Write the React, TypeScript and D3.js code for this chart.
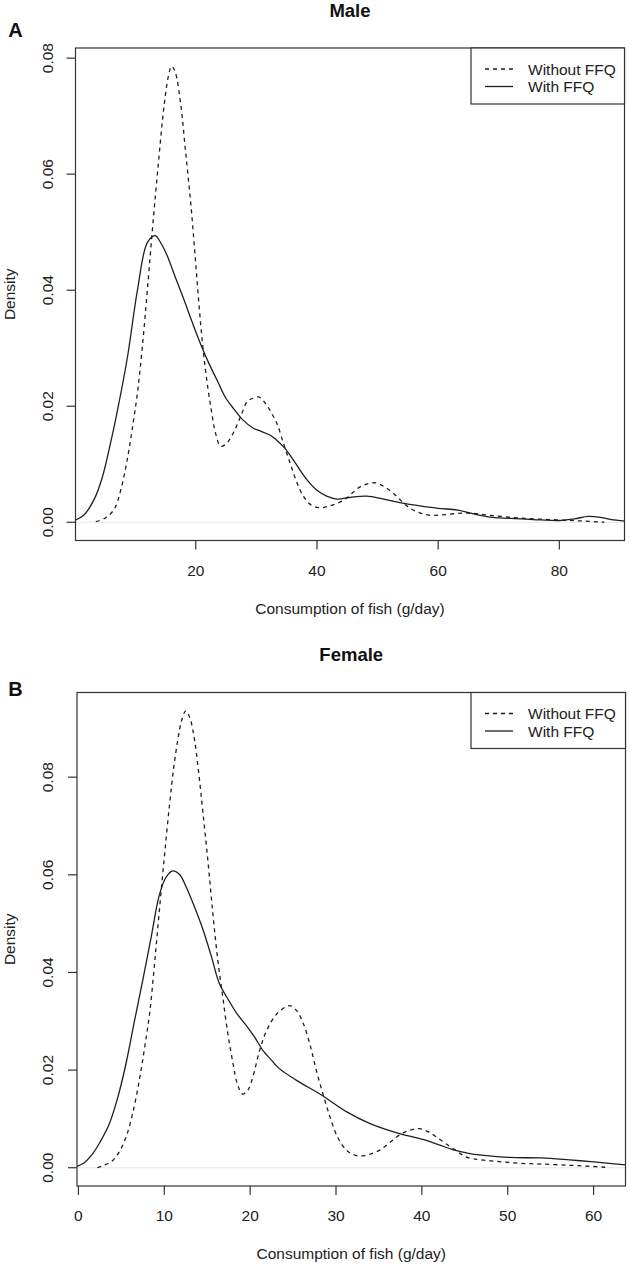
import React from "react";
import * as d3 from "d3";

// ---------- Data ----------
// Panel A: Male
const maleWithoutX = [3.5, 5.0, 6.5, 7.6, 8.7, 9.5, 10.4, 11.2, 12.0, 12.8, 13.7, 14.8, 15.5, 16.0, 16.6, 17.5, 18.3, 19.2, 20.0, 20.8, 21.6, 22.5, 23.3, 24.1, 25.0, 26.3, 27.5, 28.5, 29.5, 30.4, 31.5, 32.5, 33.4, 34.5, 35.6, 36.7, 37.8, 39.0, 40.5, 42.0, 44.4, 46.0, 47.1, 48.3, 49.6, 51.0, 52.6, 54.0, 55.4, 57.0, 58.7, 61.0, 64.6, 68.5, 73.8, 80.0, 84.0, 87.4];
const maleWithoutY = [0.0001, 0.0007, 0.0022, 0.0055, 0.0109, 0.016, 0.0226, 0.0305, 0.04, 0.05, 0.0605, 0.0721, 0.077, 0.0786, 0.0776, 0.0721, 0.064, 0.0546, 0.0444, 0.0342, 0.0262, 0.0197, 0.0152, 0.0131, 0.0135, 0.0156, 0.0185, 0.0208, 0.0214, 0.0216, 0.0205, 0.0188, 0.017, 0.0135, 0.0101, 0.0068, 0.0044, 0.003, 0.0025, 0.0028, 0.0038, 0.0052, 0.0061, 0.0066, 0.0068, 0.0062, 0.005, 0.0036, 0.0024, 0.0016, 0.0012, 0.0013, 0.0016, 0.0012, 0.0007, 0.0004, 0.0002, 0.0];
const maleWithX = [0.0, 1.5, 3.2, 4.5, 5.96, 7.3, 8.71, 10.37, 12.0, 13.3, 14.3, 15.3, 16.7, 18.07, 19.4, 20.8, 22.2, 23.6, 24.9, 26.3, 27.8, 29.5, 30.7, 32.3, 33.4, 34.5, 35.8, 37.2, 38.6, 40.0, 41.6, 43.3, 45.5, 48.2, 51.0, 53.7, 56.5, 60.0, 63.2, 66.0, 68.5, 73.8, 77.0, 80.0, 82.5, 84.8, 87.0, 89.0, 91.0];
const maleWithY = [0.0003, 0.0012, 0.0039, 0.0075, 0.0138, 0.0205, 0.0284, 0.04, 0.0482, 0.0494, 0.048, 0.0459, 0.042, 0.0383, 0.0345, 0.0307, 0.0273, 0.0243, 0.0215, 0.0195, 0.0176, 0.0162, 0.0157, 0.015, 0.0141, 0.013, 0.0112, 0.009, 0.007, 0.0055, 0.0045, 0.004, 0.0043, 0.0045, 0.004, 0.0034, 0.0029, 0.0024, 0.0021, 0.0014, 0.0009, 0.0006, 0.0004, 0.0003, 0.0006, 0.001, 0.0008, 0.0004, 0.0002];

// Panel B: Female
const femaleWithoutX = [2.2, 3.0, 4.0, 4.8, 5.55, 6.3, 7.1, 7.7, 8.3, 8.85, 9.4, 10.0, 10.6, 11.1, 11.6, 12.0, 12.5, 13.0, 13.5, 14.0, 14.5, 15.1, 15.65, 16.2, 16.8, 17.4, 18.0, 18.5, 19.1, 19.7, 20.3, 21.1, 21.9, 23.1, 24.6, 25.4, 26.2, 27.0, 27.7, 28.5, 29.3, 30.2, 31.2, 32.0, 32.8, 34.0, 35.1, 36.3, 37.4, 38.6, 39.7, 40.7, 41.7, 42.9, 44.0, 45.0, 46.0, 47.5, 49.3, 51.5, 53.9, 57.2, 59.5, 61.35];
const femaleWithoutY = [0.0, 0.0005, 0.0015, 0.0034, 0.0063, 0.011, 0.018, 0.0245, 0.0317, 0.0415, 0.0522, 0.0635, 0.0742, 0.082, 0.0879, 0.0915, 0.0936, 0.092, 0.0879, 0.081, 0.0728, 0.0625, 0.0522, 0.043, 0.0351, 0.0275, 0.0214, 0.0172, 0.0151, 0.0158, 0.0185, 0.024, 0.028, 0.0315, 0.0332, 0.0322, 0.0295, 0.025, 0.02, 0.015, 0.0104, 0.0062, 0.0036, 0.0027, 0.0024, 0.0028, 0.0036, 0.0052, 0.0067, 0.0077, 0.008, 0.0074, 0.0063, 0.0048, 0.0035, 0.0023, 0.0018, 0.0015, 0.0012, 0.0009, 0.00075, 0.0005, 0.0003, 0.0001];
const femaleWithX = [-0.5, 0.5, 1.67, 2.6, 3.6, 4.6, 5.55, 6.5, 7.5, 8.5, 9.4, 10.2, 11.0, 11.8, 12.5, 13.5, 14.5, 15.5, 16.4, 17.6, 18.4, 19.6, 20.5, 21.5, 22.5, 23.4, 25.4, 28.3, 31.2, 33.9, 37.0, 40.1, 42.0, 43.6, 45.6, 46.9, 50.2, 53.9, 57.2, 60.0, 63.7, 64.5];
const femaleWithY = [0.0002, 0.0008, 0.0029, 0.0055, 0.009, 0.0145, 0.0214, 0.0298, 0.0385, 0.0475, 0.0557, 0.0595, 0.0608, 0.06, 0.0577, 0.0535, 0.0488, 0.0432, 0.0378, 0.034, 0.0317, 0.029, 0.0268, 0.024, 0.022, 0.0203, 0.0179, 0.0149, 0.0115, 0.0091, 0.0072, 0.0058, 0.0047, 0.0037, 0.0029, 0.0026, 0.0021, 0.002, 0.0016, 0.0012, 0.0006, 0.0005];

const maleXTicks = [20, 40, 60, 80];
const femaleXTicks = [0, 10, 20, 30, 40, 50, 60];
const densityTicks = [0, 0.02, 0.04, 0.06, 0.08];
const legendLabels = ["Without FFQ", "With FFQ"];

const FONT = '"Liberation Sans", Arial, Helvetica, sans-serif';
const INK = "#1e1e1e";

type PanelProps = {
  id: string;
  title: string;
  letter: string;
  letterY: number;
  top: number;
  bottom: number;
  left: number;
  right: number;
  withoutX: number[];
  withoutY: number[];
  withX: number[];
  withY: number[];
  xTicks: number[];
  yTicks: number[];
};

function Panel(p: PanelProps) {
  const [xmin, xmax] = d3.extent(p.withoutX) as [number, number];
  const xr = xmax - xmin;
  const ymax = d3.max(p.withoutY) as number;
  const x = d3.scaleLinear().domain([xmin - 0.04 * xr, xmax + 0.04 * xr]).range([p.left, p.right]);
  const y = d3.scaleLinear().domain([-0.04 * ymax, 1.04 * ymax]).range([p.bottom, p.top]);
  const line = d3
    .line<[number, number]>()
    .x((d) => x(d[0]))
    .y((d) => y(d[1]))
    .curve(d3.curveCatmullRom.alpha(0.5));
  const withoutPts = p.withoutX.map((v, i) => [v, p.withoutY[i]] as [number, number]);
  const withPts = p.withX.map((v, i) => [v, p.withY[i]] as [number, number]);
  const fmt = d3.format(".2f");
  const cx = (p.left + p.right) / 2;
  const cy = (p.top + p.bottom) / 2;
  const legL = 471;
  const legH = 56;
  const fs = 15.5;

  return (
    <g>
      <defs>
        <clipPath id={p.id}>
          <rect x={p.left} y={p.top} width={p.right - p.left} height={p.bottom - p.top} />
        </clipPath>
      </defs>
      {/* zero line */}
      <line x1={p.left} x2={p.right} y1={y(0)} y2={y(0)} stroke="#e2e2e2" strokeWidth={0.8} />
      <g clipPath={`url(#${p.id})`}>
        <path d={line(withoutPts) || ""} fill="none" stroke={INK} strokeWidth={1.3} strokeDasharray="4,4" />
        <path d={line(withPts) || ""} fill="none" stroke={INK} strokeWidth={1.3} />
      </g>
      {/* box */}
      <rect x={p.left} y={p.top} width={p.right - p.left} height={p.bottom - p.top} fill="none" stroke="#333" strokeWidth={1.2} />
      {/* x axis */}
      {p.xTicks.map((t) => (
        <g key={"x" + t}>
          <line x1={x(t)} x2={x(t)} y1={p.bottom} y2={p.bottom + 9} stroke="#333" strokeWidth={1.2} />
          <text x={x(t)} y={p.bottom + 29.5} textAnchor="middle" dominantBaseline="central" fontSize={fs} fontFamily={FONT} fill="#222">
            {t}
          </text>
        </g>
      ))}
      {/* y axis */}
      {p.yTicks.map((t) => (
        <g key={"y" + t}>
          <line x1={p.left} x2={p.left - 9} y1={y(t)} y2={y(t)} stroke="#333" strokeWidth={1.2} />
          <text
            transform={`translate(47,${y(t)}) rotate(-90)`}
            textAnchor="middle"
            dominantBaseline="central"
            fontSize={fs}
            fontFamily={FONT}
            fill="#222"
          >
            {fmt(t)}
          </text>
        </g>
      ))}
      <text x={cx} y={p.bottom + 67.5} textAnchor="middle" dominantBaseline="central" fontSize={fs} fontFamily={FONT} fill="#222">
        Consumption of fish (g/day)
      </text>
      <text transform={`translate(9.5,${cy}) rotate(-90)`} textAnchor="middle" dominantBaseline="central" fontSize={fs} fontFamily={FONT} fill="#222">
        Density
      </text>
      {/* title */}
      <text x={cx} y={p.top - 38} textAnchor="middle" dominantBaseline="central" fontSize={18.5} fontWeight="bold" fontFamily={FONT} fill="#111">
        {p.title}
      </text>
      <text x={15.5} y={p.letterY} textAnchor="middle" dominantBaseline="central" fontSize={20} fontWeight="bold" fontFamily={FONT} fill="#111">
        {p.letter}
      </text>
      {/* legend */}
      <rect x={legL} y={p.top} width={p.right - legL} height={legH} fill="white" stroke="#333" strokeWidth={1.2} />
      {legendLabels.map((lab, i) => {
        const ly = p.top + 21 + i * 17.5;
        return (
          <g key={lab}>
            <line x1={485} x2={513} y1={ly} y2={ly} stroke={INK} strokeWidth={1.3} strokeDasharray={i === 0 ? "4,4" : undefined} />
            <text x={528} y={ly} dominantBaseline="central" fontSize={fs} fontFamily={FONT} fill="#222">
              {lab}
            </text>
          </g>
        );
      })}
    </g>
  );
}

export default function App() {
  return (
    <svg
      width={630}
      height={1265}
      viewBox="0 0 630 1265"
      style={{ position: "absolute", left: 0, top: 0, background: "white" }}
    >
      <rect x={0} y={0} width={630} height={1265} fill="white" />
      <Panel
        id="clipA"
        title="Male"
        letter="A"
        letterY={30}
        top={48}
        bottom={540.5}
        left={75.5}
        right={624.5}
        withoutX={maleWithoutX}
        withoutY={maleWithoutY}
        withX={maleWithX}
        withY={maleWithY}
        xTicks={maleXTicks}
        yTicks={densityTicks}
      />
      <Panel
        id="clipB"
        title="Female"
        letter="B"
        letterY={689}
        top={692.5}
        bottom={1186}
        left={77}
        right={625.5}
        withoutX={femaleWithoutX}
        withoutY={femaleWithoutY}
        withX={femaleWithX}
        withY={femaleWithY}
        xTicks={femaleXTicks}
        yTicks={densityTicks}
      />
    </svg>
  );
}
